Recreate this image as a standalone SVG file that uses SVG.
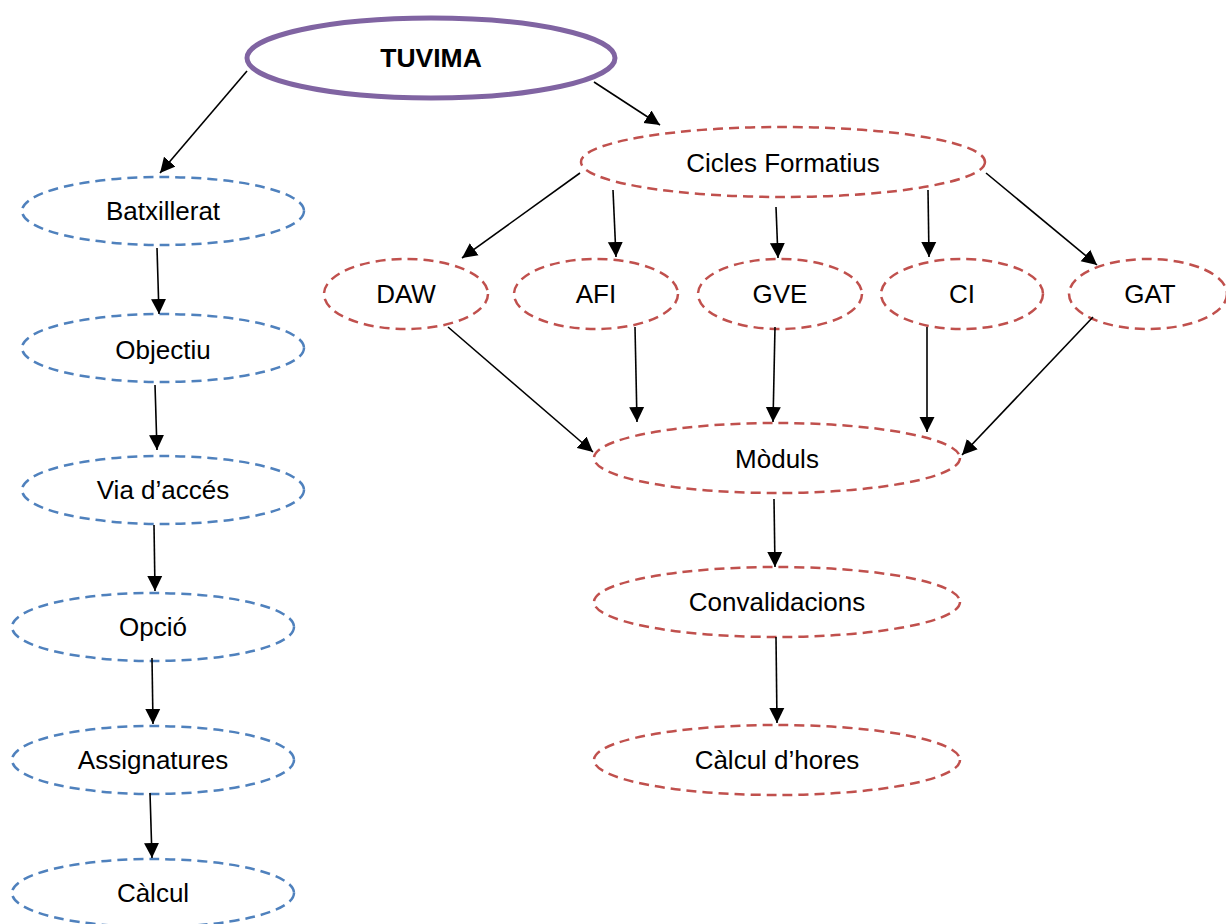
<svg xmlns="http://www.w3.org/2000/svg" width="1226" height="924" viewBox="0 0 1226 924">
<defs>
<style>
.blue{fill:none;stroke:#4F81BD;stroke-width:2.5;stroke-dasharray:10 6}
.red{fill:none;stroke:#C0504D;stroke-width:2.5;stroke-dasharray:10 6}
.top{fill:none;stroke:#8064A2;stroke-width:5}
text{font-family:"Liberation Sans",Arial,sans-serif;font-size:26px;fill:#000;text-anchor:middle;dominant-baseline:central}
.bold{font-weight:bold;font-size:26.5px}
.c line{stroke:#000;stroke-width:1.6;marker-end:url(#ah)}
</style>
<marker id="ah" markerUnits="userSpaceOnUse" markerWidth="16" markerHeight="16" refX="15" refY="8" orient="auto">
<path d="M0,0.5 L15,8 L0,15.5 Z" fill="#000"/>
</marker>
</defs>
<rect width="1226" height="924" fill="#fff"/>
<g id="tuvima"><ellipse class="top" cx="431" cy="58" rx="184" ry="40"/><text class="bold" x="431" y="58">TUVIMA</text></g>
<g id="batxillerat"><ellipse class="blue" cx="163" cy="211" rx="141" ry="34"/><text x="163" y="211">Batxillerat</text></g>
<g id="objectiu"><ellipse class="blue" cx="163" cy="348" rx="141" ry="34"/><text x="163" y="350">Objectiu</text></g>
<g id="via"><ellipse class="blue" cx="163" cy="490" rx="141" ry="34"/><text x="163" y="490">Via d’accés</text></g>
<g id="opcio"><ellipse class="blue" cx="153" cy="627" rx="141" ry="34"/><text x="153" y="627">Opció</text></g>
<g id="assignatures"><ellipse class="blue" cx="153" cy="760" rx="141" ry="34"/><text x="153" y="760">Assignatures</text></g>
<g id="calcul"><ellipse class="blue" cx="153" cy="893" rx="141" ry="34"/><text x="153" y="893">Càlcul</text></g>
<g id="cicles"><ellipse class="red" cx="783" cy="162" rx="202" ry="35"/><text x="783" y="163">Cicles Formatius</text></g>
<g id="daw"><ellipse class="red" cx="406" cy="294" rx="82" ry="35"/><text x="406" y="294">DAW</text></g>
<g id="afi"><ellipse class="red" cx="596" cy="294" rx="82" ry="35"/><text x="596" y="294">AFI</text></g>
<g id="gve"><ellipse class="red" cx="780" cy="294" rx="82" ry="35"/><text x="780" y="294">GVE</text></g>
<g id="ci"><ellipse class="red" cx="962" cy="294" rx="81" ry="35"/><text x="962" y="294">CI</text></g>
<g id="gat"><ellipse class="red" cx="1148" cy="294" rx="79" ry="35"/><text x="1150" y="294">GAT</text></g>
<g id="moduls"><ellipse class="red" cx="777" cy="458" rx="183" ry="35"/><text x="777" y="459">Mòduls</text></g>
<g id="convalidacions"><ellipse class="red" cx="777" cy="602" rx="183" ry="35"/><text x="777" y="602">Convalidacions</text></g>
<g id="hores"><ellipse class="red" cx="777" cy="760" rx="183" ry="35"/><text x="777" y="760">Càlcul d’hores</text></g>
<g id="connectors" class="c">
<line x1="247" y1="71" x2="160" y2="173"/>
<line x1="594" y1="82" x2="660" y2="125"/>
<line x1="157" y1="248" x2="159" y2="314"/>
<line x1="155" y1="385" x2="157" y2="450"/>
<line x1="154" y1="525" x2="155" y2="591"/>
<line x1="152" y1="658" x2="153" y2="724"/>
<line x1="150" y1="793" x2="152" y2="858"/>
<line x1="580" y1="173" x2="462" y2="258"/>
<line x1="613" y1="190" x2="616" y2="257"/>
<line x1="776" y1="207" x2="778" y2="258"/>
<line x1="928" y1="190" x2="929" y2="257"/>
<line x1="986" y1="173" x2="1097" y2="265"/>
<line x1="448" y1="327" x2="593" y2="452"/>
<line x1="635" y1="327" x2="637" y2="422"/>
<line x1="775" y1="327" x2="773" y2="422"/>
<line x1="927" y1="327" x2="927" y2="432"/>
<line x1="1093" y1="317" x2="962" y2="455"/>
<line x1="774" y1="499" x2="775" y2="567"/>
<line x1="776" y1="637" x2="777" y2="723"/>
</g>
</svg>
